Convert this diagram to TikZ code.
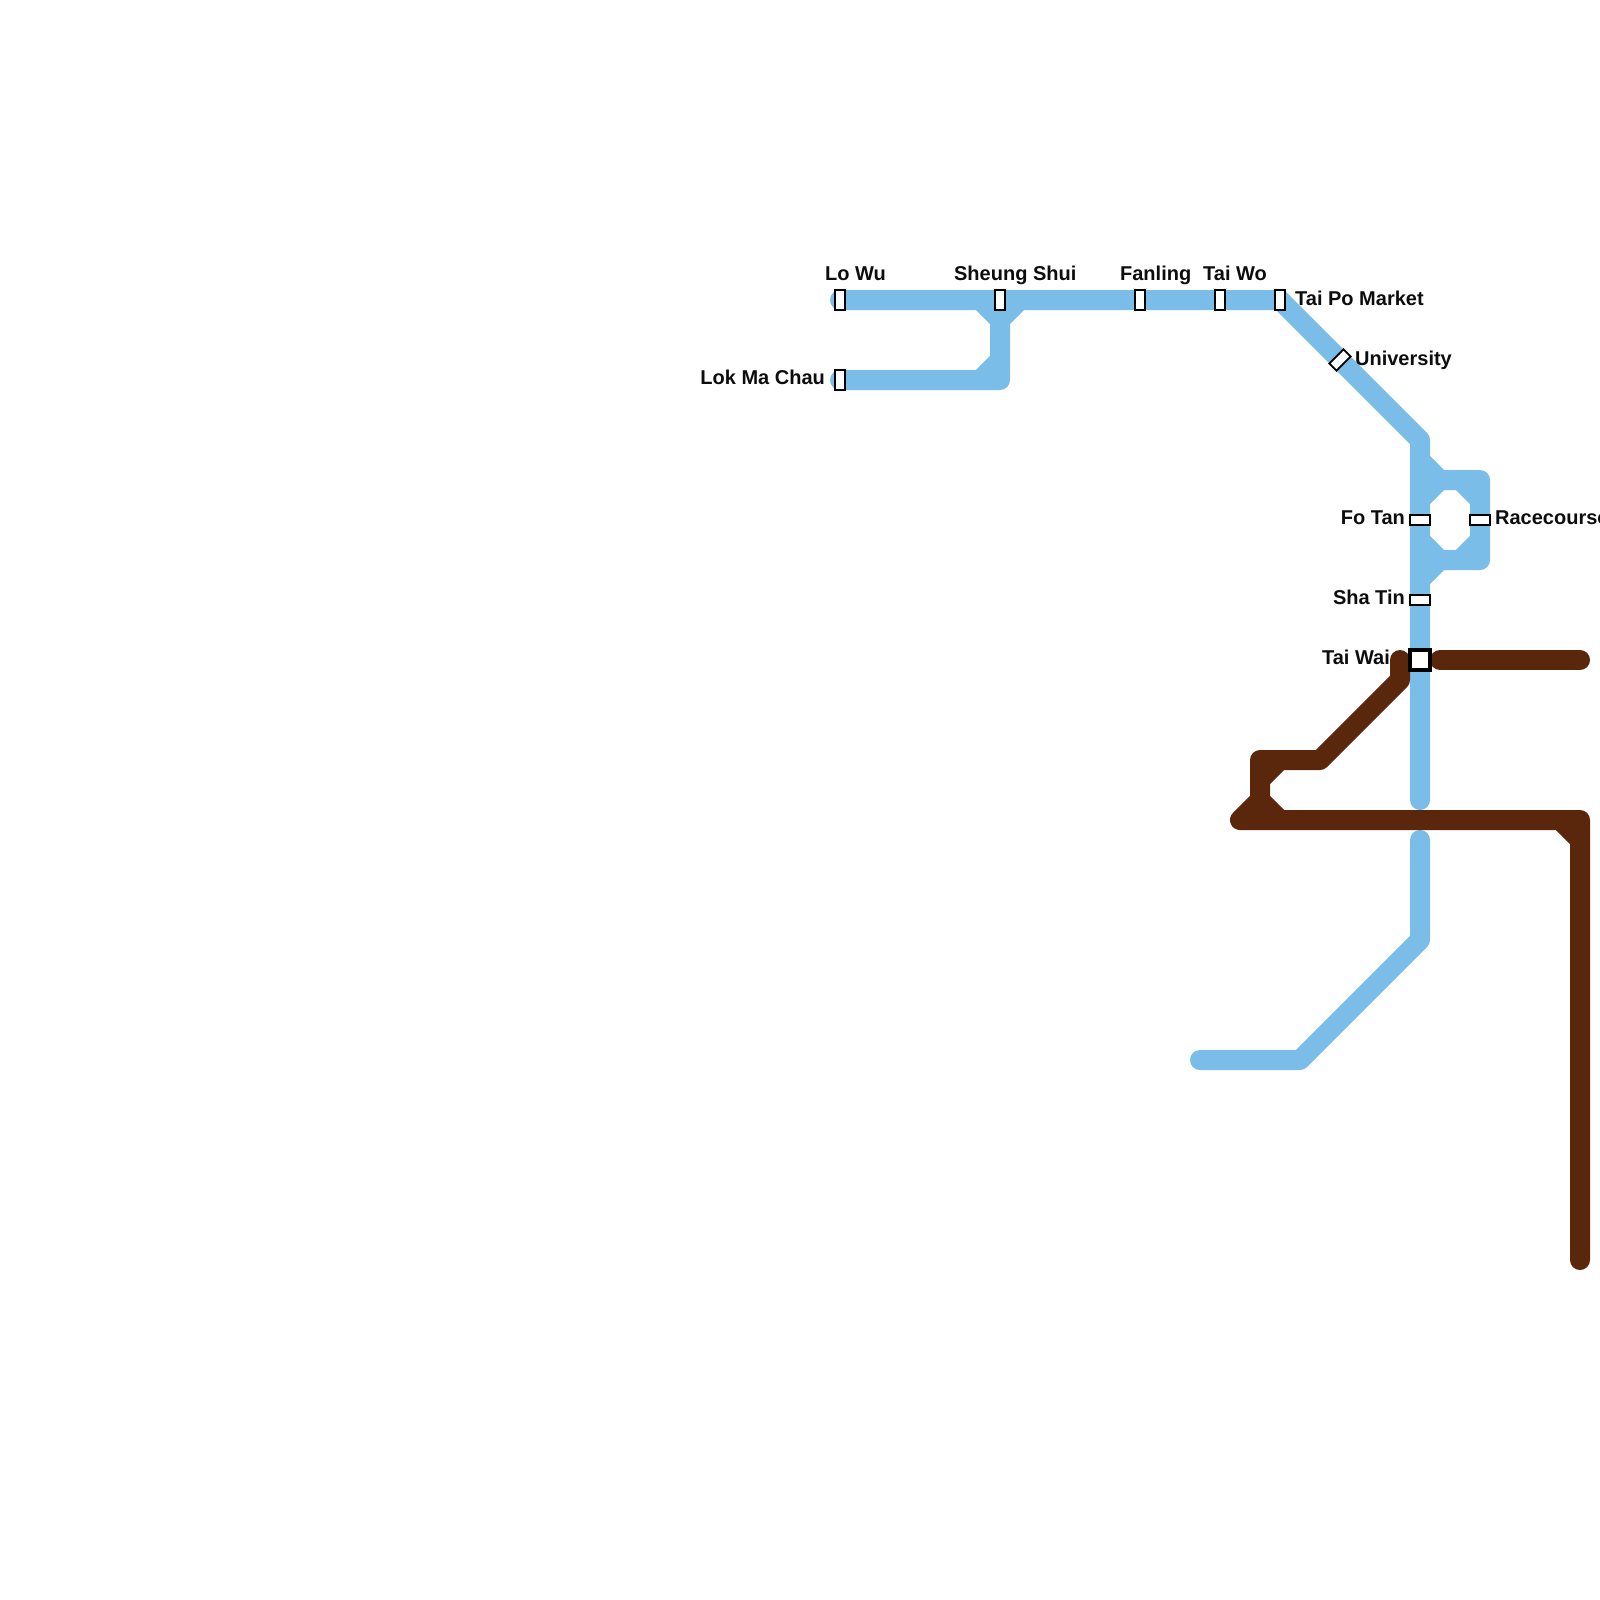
\documentclass[tikz,border=0pt]{standalone}
\usepackage{fontspec}
\setmainfont{Liberation Sans}
\definecolor{railblue}{HTML}{7ABDE9}
\definecolor{railbrown}{HTML}{5A270D}
\tikzset{
  route/.style={line width=1cm, line cap=round, line join=round},
  stlab/.style={font=\fontsize{28.45}{34}\selectfont\bfseries, inner sep=0pt, text=black!95},
  stnv/.style={draw=black, fill=white, line width=.09cm, inner sep=0pt, minimum width=.5cm, minimum height=1cm},
  stnh/.style={stnv, minimum width=1cm, minimum height=.5cm},
  stnx/.style={draw=black, fill=white, line width=.19cm, inner sep=0pt, minimum size=1cm}
}

\begin{document}
\begin{tikzpicture}[x=.05cm,y=-.05cm]
\useasboundingbox (0,0) rectangle (1600,1600);

% route points
\coordinate (lowuEnd) at (840,300);
\coordinate (lokEnd) at (840,380);
\coordinate (lokCorner) at (1000,380);
\coordinate (shuiFork) at (1000,320);
\coordinate (shuiLeft) at (980,300);
\coordinate (shuiRight) at (1020,300);
\coordinate (lokFilletA) at (980,380);
\coordinate (lokFilletB) at (1000,360);
\coordinate (taipoCorner) at (1280,300);
\coordinate (northBend) at (1420,440);
\coordinate (southEnd) at (1420,800);
\coordinate (southStart) at (1420,840);
\coordinate (southBend) at (1420,940);
\coordinate (southDiag) at (1300,1060);
\coordinate (hungEnd) at (1200,1060);

% racecourse loop
\coordinate (loopTopA) at (1420,460);
\coordinate (loopTopB) at (1440,480);
\coordinate (loopTopC) at (1420,500);
\coordinate (loopTopD) at (1460,480);
\coordinate (loopNE) at (1480,480);
\coordinate (loopTopE) at (1480,500);
\coordinate (loopBotA) at (1420,540);
\coordinate (loopBotB) at (1440,560);
\coordinate (loopBotC) at (1420,580);
\coordinate (loopBotD) at (1460,560);
\coordinate (loopSE) at (1480,560);
\coordinate (loopBotE) at (1480,540);

% brown line
\coordinate (waiEast) at (1440,660);
\coordinate (eastEnd) at (1580,660);
\coordinate (waiTop) at (1400,660);
\coordinate (waiBend) at (1400,680);
\coordinate (hinA) at (1320,760);
\coordinate (hinB) at (1260,760);
\coordinate (hinC) at (1260,800);
\coordinate (hinD) at (1240,820);
\coordinate (hinE) at (1580,820);
\coordinate (hinEnd) at (1580,1260);
\coordinate (filA) at (1280,760);
\coordinate (filB) at (1260,780);
\coordinate (filC) at (1280,820);
\coordinate (filD) at (1560,820);
\coordinate (filE) at (1580,840);

% blue line
\draw[route,railblue] (lowuEnd) -- (taipoCorner) -- (northBend) -- (southEnd);
\draw[route,railblue] (lokEnd) -- (lokCorner) -- (shuiFork) -- (shuiRight);
\draw[route,railblue] (shuiFork) -- (shuiLeft);
\draw[route,railblue] (lokFilletA) -- (lokFilletB);
\draw[route,railblue] (southStart) -- (southBend) -- (southDiag) -- (hungEnd);
\draw[route,railblue] (loopTopA) -- (loopTopB) -- (loopNE) -- (loopSE) -- (loopBotB) -- (loopBotC);
\draw[route,railblue] (loopTopC) -- (loopTopB);
\draw[route,railblue] (loopTopD) -- (loopTopE);
\draw[route,railblue] (loopBotA) -- (loopBotB);
\draw[route,railblue] (loopBotD) -- (loopBotE);

% brown line
\draw[route,railbrown] (waiEast) -- (eastEnd);
\draw[route,railbrown] (waiTop) -- (waiBend) -- (hinA) -- (hinB) -- (hinC) -- (hinD) -- (hinE) -- (hinEnd);
\draw[route,railbrown] (filA) -- (filB);
\draw[route,railbrown] (hinC) -- (filC);
\draw[route,railbrown] (filD) -- (filE);

% stations
\node[stnv] (lowu) at (840,300) {};
\node[stnv] (lokmachau) at (840,380) {};
\node[stnv] (sheungshui) at (1000,300) {};
\node[stnv] (fanling) at (1140,300) {};
\node[stnv] (taiwo) at (1220,300) {};
\node[stnv] (taipo) at (1280,300) {};
\node[stnv,rotate=-45] (university) at (1340,360) {};
\node[stnh] (fotan) at (1420,520) {};
\node[stnh] (racecourse) at (1480,520) {};
\node[stnh] (shatin) at (1420,600) {};
\node[stnx] (taiwai) at (1420,660) {};

% labels
\node[stlab,anchor=base west] (lowuLab) at (825,280) {Lo Wu};
\node[stlab,anchor=base east] (lokLab) at (825,384.5) {Lok Ma Chau};
\node[stlab,anchor=base west] (shuiLab) at (954,280) {Sheung Shui};
\node[stlab,anchor=base west] (fanLab) at (1120,280) {Fanling};
\node[stlab,anchor=base west] (woLab) at (1203,280) {Tai Wo};
\node[stlab,anchor=base west] (taipoLab) at (1295,305) {Tai Po Market};
\node[stlab,anchor=base west] (uniLab) at (1355,365) {University};
\node[stlab,anchor=base east] (fotanLab) at (1405,524.5) {Fo Tan};
\node[stlab,anchor=base west] (raceLab) at (1495,524.5) {Racecourse};
\node[stlab,anchor=base east] (shaLab) at (1405,604.5) {Sha Tin};
\node[stlab,anchor=base east] (waiLab) at (1390,664.5) {Tai Wai};

\end{tikzpicture}
\end{document}
